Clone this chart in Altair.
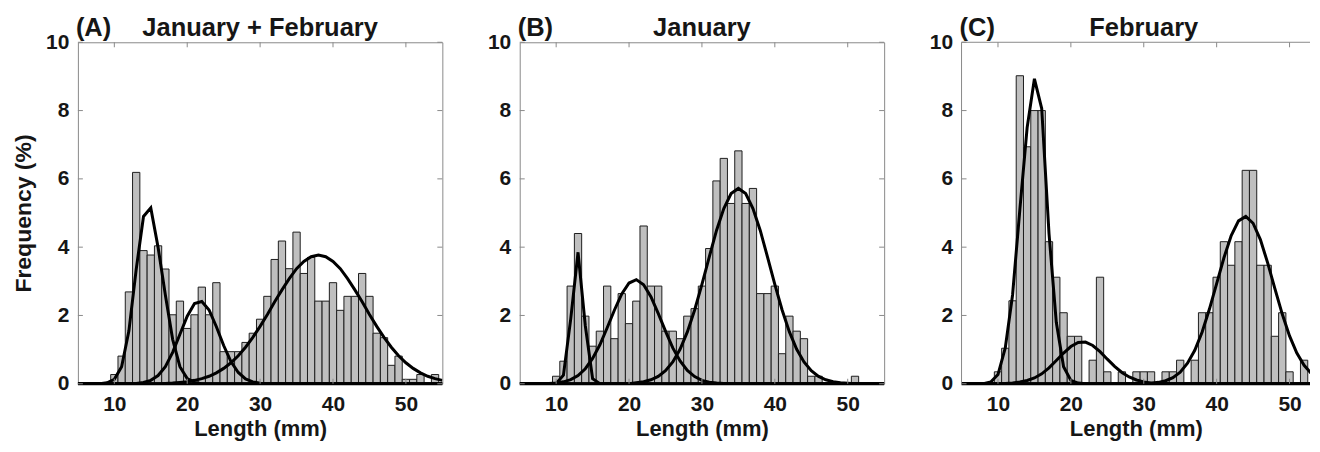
import altair as alt
import pandas as pd

FONT = "Liberation Sans"

# ---------------- data ----------------
BIN_CENTERS = list(range(10, 55))  # 1-mm bins centred on integers, 10..54

COUNTS_A = [0.27, 0.81, 2.69, 6.19, 3.90, 3.77, 4.04, 3.36, 2.02, 2.42,
            1.62, 2.02, 2.83, 2.02, 2.96, 0.94, 0.94, 0.94, 1.21, 1.48,
            1.89, 2.56, 3.64, 4.18, 3.37, 4.44, 3.23, 3.70, 2.42, 2.42,
            2.96, 2.15, 2.56, 2.56, 3.23, 2.56, 1.48, 1.35, 0.54, 0.81,
            0.13, 0.13, 0.27, 0.00, 0.27]
COUNTS_B = [0.22, 0.66, 2.86, 4.40, 1.98, 1.10, 1.54, 2.86, 1.32, 2.64,
            1.76, 2.42, 4.62, 2.86, 2.86, 1.54, 1.54, 1.32, 1.98, 2.20,
            2.86, 3.96, 5.94, 6.60, 5.28, 6.82, 5.28, 5.72, 2.64, 2.64,
            2.86, 0.88, 1.98, 1.54, 1.32, 0.22, 0.22, 0.00, 0.00, 0.00,
            0.00, 0.22, 0.00, 0.00, 0.00]
COUNTS_C = [0.35, 1.04, 2.43, 9.02, 6.94, 8.00, 8.00, 4.16, 3.12, 2.08,
            1.39, 1.39, 0.00, 0.69, 3.12, 0.35, 0.00, 0.35, 0.00, 0.35,
            0.35, 0.35, 0.00, 0.35, 0.35, 0.69, 0.00, 0.69, 2.08, 2.08,
            3.12, 4.16, 3.47, 4.16, 6.25, 6.25, 3.47, 3.47, 1.39, 2.08,
            0.35, 0.00, 0.69, 0.00, 0.69]

# fitted components, values read at integer lengths (start length, values)
A_COMP1 = (8, [0.0, 0.03, 0.13, 0.5, 1.55, 3.35, 4.9, 5.15, 4.0, 2.6, 1.3, 0.5, 0.15, 0.04, 0.0])
A_COMP2 = (12, [0.0, 0.011, 0.036, 0.1, 0.24, 0.5, 0.92, 1.45, 1.98, 2.35, 2.41, 2.16, 1.67,
                1.12, 0.65, 0.33, 0.14, 0.055, 0.018, 0.0])
A_COMP3 = (17, [0.01, 0.02, 0.04, 0.06, 0.1, 0.15, 0.22, 0.32, 0.45, 0.615, 0.82, 1.07, 1.36,
                1.68, 2.03, 2.40, 2.75, 3.08, 3.37, 3.58, 3.72, 3.77, 3.72, 3.58, 3.37, 3.08,
                2.75, 2.40, 2.03, 1.68, 1.36, 1.07, 0.82, 0.615, 0.45, 0.32, 0.22, 0.15, 0.10])
B_COMP1 = (9, [0.0, 0.01, 0.25, 1.9, 3.85, 1.7, 0.15, 0.0])
B_COMP2 = (9, [0.01, 0.024, 0.056, 0.12, 0.24, 0.44, 0.74, 1.14, 1.64, 2.16, 2.63, 2.95, 3.05,
               2.90, 2.55, 2.06, 1.54, 1.05, 0.67, 0.39, 0.21, 0.10, 0.048, 0.02, 0.008, 0.0])
B_COMP3 = (21, [0.03, 0.059, 0.117, 0.217, 0.383, 0.64, 1.01, 1.52, 2.16, 2.91, 3.71, 4.49,
                5.13, 5.57, 5.72, 5.57, 5.13, 4.49, 3.71, 2.91, 2.16, 1.52, 1.01, 0.64, 0.383,
                0.217, 0.117, 0.059, 0.028, 0.013, 0.0])
C_COMP1 = (8, [0.0, 0.05, 0.27, 1.05, 2.6, 5.1, 7.5, 8.93, 8.06, 4.4, 1.8, 0.5, 0.1, 0.02, 0.0])
C_COMP2 = (11, [0.01, 0.025, 0.05, 0.095, 0.17, 0.29, 0.466, 0.68, 0.9, 1.09, 1.21, 1.22, 1.12,
                0.94, 0.72, 0.51, 0.33, 0.2, 0.11, 0.055, 0.025, 0.01, 0.0])
C_COMP3 = (29, [0.004, 0.009, 0.018, 0.041, 0.089, 0.18, 0.34, 0.60, 0.98, 1.51, 2.18, 2.93,
                3.69, 4.34, 4.77, 4.90, 4.70, 4.22, 3.54, 2.78, 2.04, 1.40, 0.90, 0.54, 0.30,
                0.157, 0.077])

X_TICKS = [10, 20, 30, 40, 50]
Y_TICKS = [0, 2, 4, 6, 8, 10]
X_START, X_END = 5, 55
Y_DOMAIN = [0, 10]

PANEL_LABELS = ["(A)", "(B)", "(C)"]
PANEL_TITLES = ["January + February", "January", "February"]
X_TITLE = "Length (mm)"
Y_TITLE = "Frequency (%)"

# ---------------- styling ----------------
PX_PER_MM = 7.3
W, H = 365, 342
W_C = 349          # third panel is cut by the right edge of the picture
TICK_LEN = 5
FRAME = "#8a8a8a"
TEXT = "#161616"
TITLE_FS = 25.5


def comp_frame(comps, x_last):
    rows = []
    for k, (start, vals) in enumerate(comps):
        for xx in range(X_START, x_last + 1):
            i = xx - start
            v = vals[i] if 0 <= i < len(vals) else 0.0
            rows.append({"x": xx, "y": v, "comp": f"c{k}"})
    return pd.DataFrame(rows)


def panel(idx, counts, comps, show_ytitle, width):
    cut = width != W
    x_end = X_START + width / PX_PER_MM
    xs = alt.Scale(domain=[X_START, x_end], nice=False, zero=False)
    ys = alt.Scale(domain=Y_DOMAIN, nice=False, zero=True)
    xaxis = alt.Axis(values=X_TICKS, title=X_TITLE, ticks=False, domain=False, grid=False,
                     labelFont=FONT, labelFontSize=21, labelFontWeight="bold", labelColor=TEXT,
                     labelPadding=10, labelFlush=False, labelOverlap=False,
                     titleFont=FONT, titleFontSize=22, titleFontWeight="bold", titleColor=TEXT,
                     titlePadding=4)
    ykw = dict(values=Y_TICKS, ticks=False, domain=False, grid=False,
               labelFont=FONT, labelFontSize=21, labelFontWeight="bold", labelColor=TEXT,
               labelPadding=9, labelFlush=False, labelOverlap=False)
    if show_ytitle:
        yaxis = alt.Axis(title=Y_TITLE, titleFont=FONT, titleFontSize=23, titleFontWeight="bold",
                         titleColor=TEXT, titlePadding=10, **ykw)
    else:
        yaxis = alt.Axis(title=None, **ykw)

    X = lambda: alt.X("x:Q", scale=xs, axis=xaxis)
    Y = lambda: alt.Y("y:Q", scale=ys, axis=yaxis)

    bars_df = pd.DataFrame({
        "x": [c - 0.5 for c in BIN_CENTERS],
        "x2": [c + 0.5 for c in BIN_CENTERS],
        "y": counts,
    })
    bars_df = bars_df[(bars_df["y"] > 0) & (bars_df["x"] < x_end)]

    bars = alt.Chart(bars_df).mark_rect(
        fill="#bfbfbf", stroke="#1e1e1e", strokeWidth=1, clip=True
    ).encode(x=X(), x2="x2:Q", y=Y(), y2=alt.datum(0))

    x_last = min(X_END, int(x_end) + 1)
    lines = alt.Chart(comp_frame(comps, x_last)).mark_line(
        color="black", strokeWidth=3, clip=True
    ).encode(x=X(), y=Y(), detail="comp:N")

    one = pd.DataFrame({"b": [0]})
    base = alt.Chart(one).mark_rule(color="black", strokeWidth=3).encode(
        x=alt.value(0), x2=alt.value(width), y=alt.value(H))

    xt = pd.DataFrame({"x": X_TICKS})
    yt = pd.DataFrame({"y": Y_TICKS})
    tick_style = dict(color=FRAME, strokeWidth=1)
    tb = alt.Chart(xt).mark_rule(**tick_style).encode(x=X(), y=alt.value(H), y2=alt.value(H - TICK_LEN))
    tt = alt.Chart(xt).mark_rule(**tick_style).encode(x=X(), y=alt.value(0), y2=alt.value(TICK_LEN))
    tl = alt.Chart(yt).mark_rule(**tick_style).encode(y=Y(), x=alt.value(0), x2=alt.value(TICK_LEN))
    layers = [bars, lines, base, tb, tt, tl]
    if not cut:
        tr = alt.Chart(yt).mark_rule(**tick_style).encode(
            y=Y(), x=alt.value(width), x2=alt.value(width - TICK_LEN))
        layers.append(tr)
    else:
        # frame on the visible sides only (the right side is outside the picture)
        fl = alt.Chart(one).mark_rule(**tick_style).encode(
            x=alt.value(0), y=alt.value(0), y2=alt.value(H))
        ft = alt.Chart(one).mark_rule(**tick_style).encode(
            x=alt.value(0), x2=alt.value(width), y=alt.value(0))
        layers += [fl, ft]

    lab = alt.Chart(pd.DataFrame({"t": [PANEL_LABELS[idx]]})).mark_text(
        align="left", baseline="alphabetic", font=FONT, fontSize=TITLE_FS, fontWeight="bold", color=TEXT
    ).encode(text="t:N", x=alt.value(-2), y=alt.value(-6))
    ttl = alt.Chart(pd.DataFrame({"t": [PANEL_TITLES[idx]]})).mark_text(
        align="center", baseline="alphabetic", font=FONT, fontSize=TITLE_FS, fontWeight="bold", color=TEXT
    ).encode(text="t:N", x=alt.value(W / 2), y=alt.value(-6))
    layers += [lab, ttl]

    if cut:
        return alt.layer(*layers, view=alt.ViewBackground(stroke="transparent")).properties(
            width=width, height=H)
    return alt.layer(*layers).properties(width=width, height=H)


pA = panel(0, COUNTS_A, [A_COMP1, A_COMP2, A_COMP3], True, W)
pB = panel(1, COUNTS_B, [B_COMP1, B_COMP2, B_COMP3], False, W)
pC = panel(2, COUNTS_C, [C_COMP1, C_COMP2, C_COMP3], False, W_C)

chart = alt.hconcat(pA, pB, pC, spacing=77.5, bounds="flush").configure_view(
    stroke=FRAME, strokeWidth=1
).properties(
    padding={"left": 4, "top": 7, "right": 0, "bottom": 0},
    background="white",
)

chart.save("out.html", embed_options={"renderer": "svg", "actions": False})
